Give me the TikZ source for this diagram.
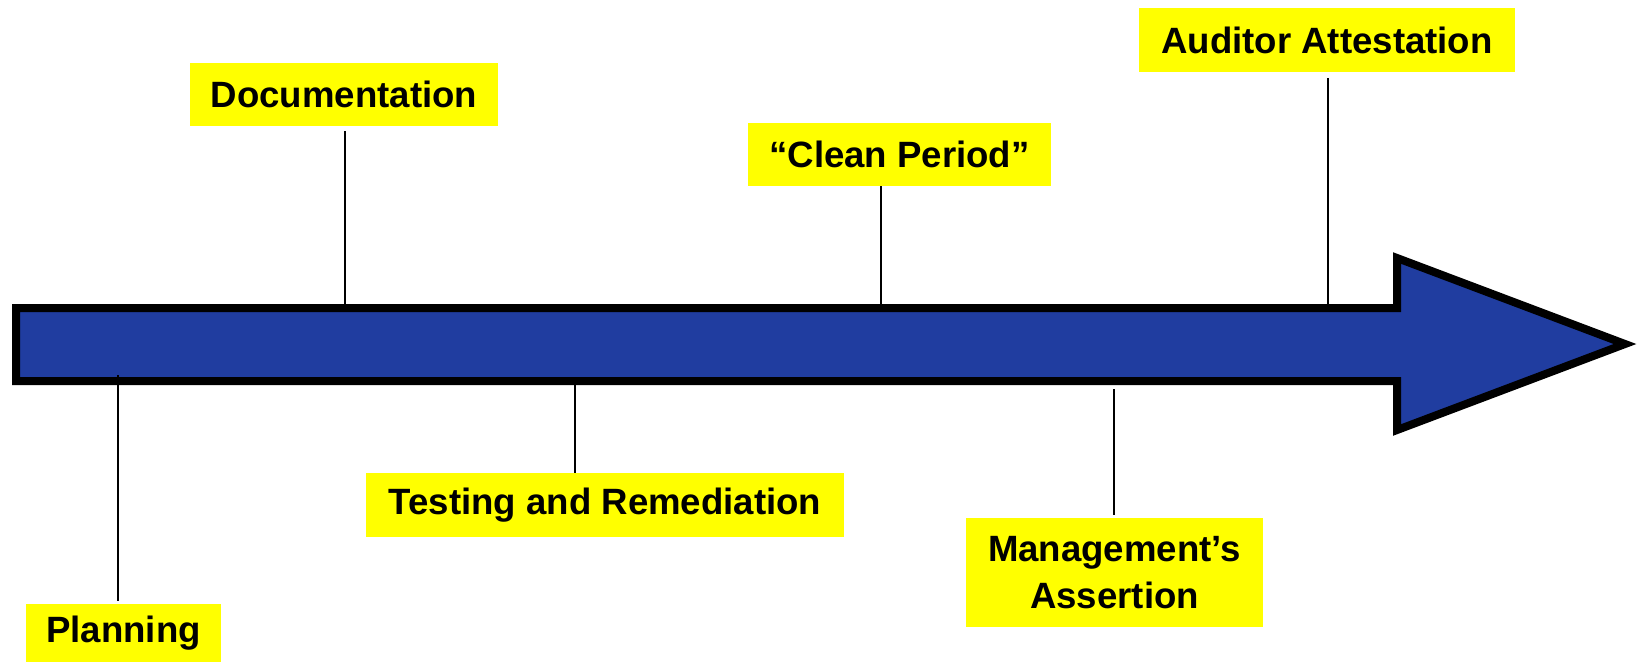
\documentclass[tikz,border=0pt]{standalone}
\usepackage{fontspec}
\setmainfont{Liberation Sans}
\definecolor{shaftblue}{RGB}{32,61,160}
\definecolor{labelyellow}{RGB}{255,255,0}
\tikzset{
  phase/.style={fill=labelyellow, inner sep=0pt, align=center,
    font=\bfseries\fontsize{18.3}{23.5}\selectfont},
  stem/.style={black, line width=1pt},
  timeline/.style={fill=shaftblue, draw=black, line width=4pt},
}
\begin{document}
\begin{tikzpicture}[x=0.5pt, y=-0.5pt]
    \useasboundingbox (0,0) rectangle (1638,661);
    % phase labels above and below the arrow (sizes in pt = half a pixel unit)
    \node[phase, minimum width=154pt, minimum height=31.5pt] (doc) at (344,94.5) {Documentation};
    \node[phase, minimum width=151.5pt, minimum height=31.5pt] (clean) at (899.5,154.5) {“Clean Period”};
    \node[phase, minimum width=188pt, minimum height=32pt] (audit) at (1327,40) {Auditor Attestation};
    \node[phase, minimum width=97.5pt, minimum height=29pt] (plan) at (123.5,633) {Planning};
    \node[phase, minimum width=239pt, minimum height=32pt] (test) at (605,505) {Testing and Remediation};
    \node[phase, minimum width=148.5pt, minimum height=54.5pt] (mgmt) at (1114.5,572.5) {Management’s\\Assertion};
    % points where the stems meet the arrow
    \coordinate (docpt) at (345,306);
    \coordinate (cleanpt) at (881,306);
    \coordinate (auditpt) at (1328,306);
    \coordinate (planpt) at (118,375);
    \coordinate (testpt) at (575,384);
    \coordinate (mgmtpt) at (1114,389);
    % stems
    \draw[stem, shorten <=2.5pt] (doc.south -| docpt) -- (docpt);
    \draw[stem] (clean.south -| cleanpt) -- (cleanpt);
    \draw[stem, shorten <=3pt] (audit.south -| auditpt) -- (auditpt);
    % arrow
    \draw[timeline] (16,308) -- (1397,308) -- (1397,258) -- (1625,344)
      -- (1397,430) -- (1397,381) -- (16,381) -- cycle;
    \draw[stem, shorten >=1.5pt] (planpt) -- (plan.north -| planpt);
    \draw[stem] (testpt) -- (test.north -| testpt);
    \draw[stem, shorten >=1.5pt] (mgmtpt) -- (mgmt.north -| mgmtpt);
\end{tikzpicture}
\end{document}
